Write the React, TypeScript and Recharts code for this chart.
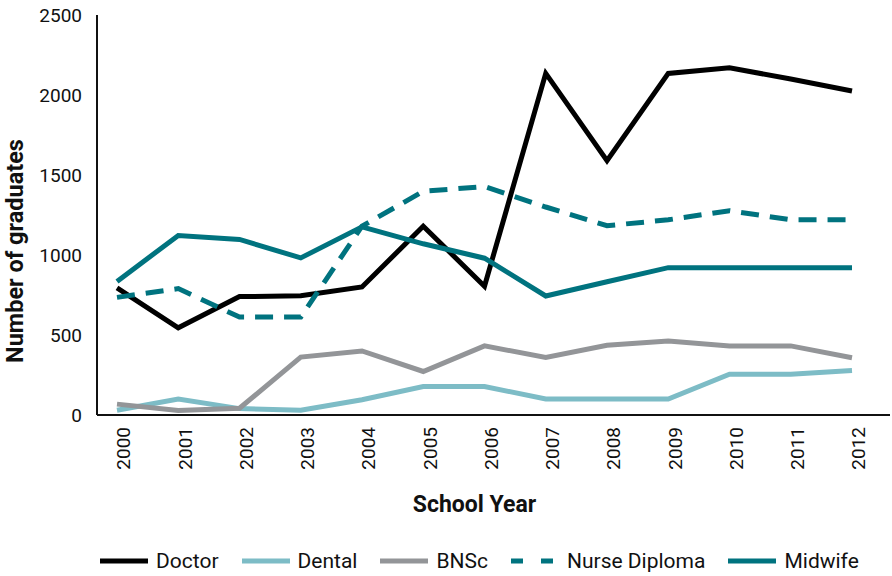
import { Legend, Line, LineChart, XAxis, YAxis } from "recharts";

const years = ["2000", "2001", "2002", "2003", "2004", "2005", "2006", "2007", "2008", "2009", "2010", "2011", "2012"];
const doctor = [795, 545, 740, 745, 800, 1180, 805, 2135, 1590, 2135, 2170, 2100, 2025];
const dental = [30, 100, 40, 30, 95, 178, 178, 100, 100, 100, 255, 255, 278];
const bnsc = [68, 28, 42, 362, 400, 272, 432, 360, 436, 462, 432, 432, 358];
const nurseDiploma = [735, 790, 612, 612, 1180, 1398, 1428, 1300, 1183, 1220, 1277, 1220, 1220];
const midwife = [835, 1122, 1097, 982, 1176, 1070, 980, 744, 833, 921, 921, 921, 921];
const yTicks = [0, 500, 1000, 1500, 2000, 2500];

const series = [
  { key: "doctor", name: "Doctor", color: "#000000", dash: undefined },
  { key: "dental", name: "Dental", color: "#7dbcc6", dash: undefined },
  { key: "bnsc", name: "BNSc", color: "#939598", dash: undefined },
  { key: "nurse", name: "Nurse Diploma", color: "#00737f", dash: "18 11" },
  { key: "midwife", name: "Midwife", color: "#00737f", dash: undefined },
];

const data = years.map((y, i) => ({
  year: y,
  doctor: doctor[i],
  dental: dental[i],
  bnsc: bnsc[i],
  nurse: nurseDiploma[i],
  midwife: midwife[i],
}));

const FONT = "Roboto, 'DejaVu Sans', sans-serif";

function LegendRow() {
  return (
    <div style={{ display: "flex", alignItems: "center", paddingLeft: 100, height: 30, fontFamily: FONT, fontSize: 21, color: "#111" }}>
      {series.map((s) => (
        <span key={s.key} style={{ display: "flex", alignItems: "center", marginRight: 23 }}>
          <svg width={48} height={10} style={{ marginRight: 8 }}>
            <line x1={0} y1={5} x2={48} y2={5} stroke={s.color} strokeWidth={5} strokeDasharray={s.dash ? "12 18" : undefined} />
          </svg>
          {s.name}
        </span>
      ))}
    </div>
  );
}

// rotated axis title, sits a bit below the middle of the axis like the original
function YTitle(props: any) {
  const vb = props.viewBox || {};
  const cx = (vb.x ?? 0) + 15;
  const cy = (vb.y ?? 0) + (vb.height ?? 0) / 2 + 36;
  return (
    <text
      x={cx}
      y={cy}
      transform={`rotate(-90, ${cx}, ${cy})`}
      textAnchor="middle"
      dominantBaseline="central"
      fill="#111"
      fontSize={23.5}
      fontWeight={700}
      fontFamily={FONT}
    >
      Number of graduates
    </text>
  );
}

export default function App() {
  return (
    <div style={{ position: "absolute", left: 0, top: 0, width: 892, height: 576, background: "#fff" }}>
      <LineChart width={892} height={576} data={data} margin={{ top: 15, right: 2, bottom: 0, left: 0 }}>
        <XAxis
          dataKey="year"
          padding={{ left: 20, right: 38 }}
          stroke="#111"
          strokeWidth={2}
          tickLine={false}
          tickSize={0}
          tickMargin={12}
          height={131}
          interval={0}
          tick={{ angle: -90, textAnchor: "end", verticalAnchor: "middle", fill: "#111", fontSize: 19, fontFamily: FONT }}
          label={{ value: "School Year", position: "insideBottom", offset: 34, dx: -19, fill: "#111", fontSize: 23, fontWeight: 700, fontFamily: FONT }}
        />
        <YAxis
          domain={[0, 2500]}
          ticks={yTicks}
          width={97}
          stroke="#111"
          strokeWidth={2}
          tickLine={false}
          tickMargin={9}
          tick={{ fill: "#111", fontSize: 19, fontFamily: FONT }}
          label={{ content: YTitle }}
        />
        <Legend verticalAlign="bottom" content={() => <LegendRow />} wrapperStyle={{ bottom: 0, left: 0 }} />
        {series.map((s) => (
          <Line
            key={s.key}
            dataKey={s.key}
            name={s.name}
            stroke={s.color}
            strokeWidth={5}
            strokeDasharray={s.dash}
            strokeLinejoin="miter"
            dot={false}
            activeDot={false}
            type="linear"
            isAnimationActive={false}
          />
        ))}
      </LineChart>
    </div>
  );
}
